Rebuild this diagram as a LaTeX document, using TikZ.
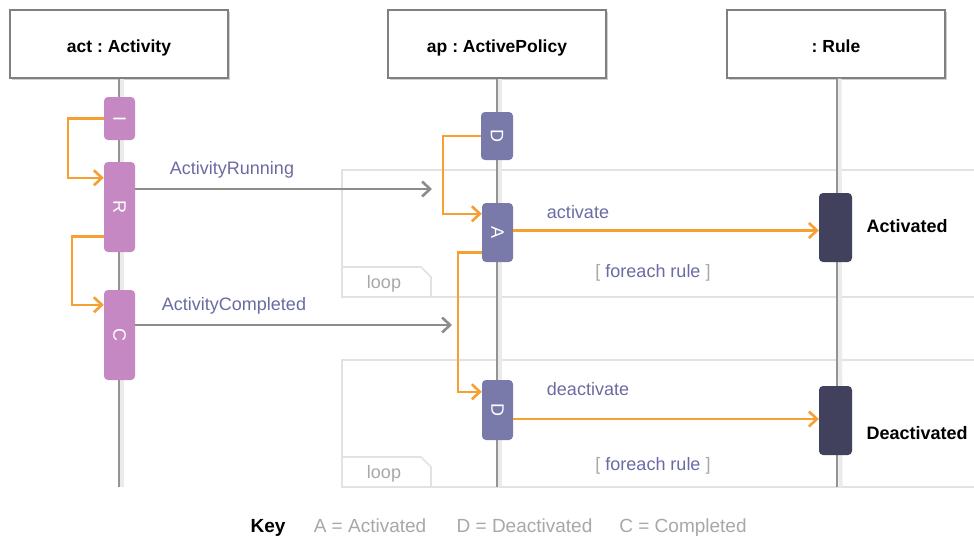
\documentclass[tikz,border=0pt]{standalone}
\usepackage{fontspec}
\setmainfont{Liberation Sans}
\frenchspacing
\usetikzlibrary{arrows.meta,shadows,calc}
\definecolor{actc}{HTML}{C588C2}
\definecolor{apc}{HTML}{7979AA}
\definecolor{rulec}{HTML}{41415E}
\definecolor{orng}{HTML}{F5A030}
\definecolor{msgc}{HTML}{6B6BA3}
\definecolor{garr}{HTML}{8C8C8C}
\definecolor{framec}{HTML}{E2E2E2}
\definecolor{ltxt}{HTML}{A8A8A8}
\tikzset{
  header/.style={draw=black!50, line width=1.3pt, fill=white, minimum width=218pt, minimum height=68pt, inner sep=0pt,
    text height=17pt, text depth=0pt,
    font=\fontsize{17.5}{20}\selectfont\bfseries,
    drop shadow={shadow xshift=2pt, shadow yshift=-2pt, opacity=0.3, fill=black!60}},
  bar/.style={rounded corners=4pt, inner sep=0pt, text=white, font=\fontsize{18}{20}\selectfont},
  lifeline/.style={draw=black!42, line width=2.4pt},
  lifeshadow/.style={draw=black!8, line width=4pt},
  oarrow/.style={draw=orng, line width=2.6pt, -{Straight Barb[length=8pt,width=15pt,line width=2.6pt]}},
  garrow/.style={draw=garr, line width=2.6pt, -{Straight Barb[length=8pt,width=15pt,line width=2.6pt]}},
  msg/.style={text=msgc, font=\fontsize{18}{20}\selectfont},
  loopframe/.style={draw=framec, line width=1.6pt},
  looptxt/.style={text=ltxt, font=\fontsize{18}{20}\selectfont},
  keytxt/.style={text=ltxt, font=\fontsize{19}{21}\selectfont, anchor=base},
  state/.style={font=\fontsize{18}{20}\selectfont\bfseries, anchor=west}
}
\newcommand{\rotl}[1]{\rotatebox{-90}{#1}}
\begin{document}
\begin{tikzpicture}[x=1pt, y=-1pt]
\useasboundingbox[fill=white] (0,0) rectangle (974,538);

% loop frames
\draw[loopframe] (342,170) rectangle (980,297);
\draw[loopframe] (342,267) -- (421,267) -- (431,277) -- (431,297);
\node[looptxt] (loop1) at (384,284) {loop};
\draw[loopframe] (342,360) rectangle (980,487);
\draw[loopframe] (342,457) -- (421,457) -- (431,467) -- (431,487);
\node[looptxt] (loop2) at (384,474) {loop};

% headers
\node[header] (act) at (119,44) {act : Activity};
\node[header] (ap) at (497,44) {ap : ActivePolicy};
\node[header] (rule) at (836,44) {: Rule};

% lifelines
\coordinate (actEnd) at (119,487);
\coordinate (apEnd) at (497,487);
\coordinate (ruleEnd) at (837,487);
\draw[lifeshadow] ([xshift=2.5pt]act.south) -- ([xshift=2.5pt]actEnd);
\draw[lifeshadow] ([xshift=2.5pt]ap.south) -- ([xshift=2.5pt]apEnd);
\draw[lifeshadow] ([xshift=3.5pt]rule.south) -- ([xshift=3.5pt]ruleEnd);
\draw[lifeline] (act.south) -- (actEnd);
\draw[lifeline] (ap.south) -- (apEnd);
\draw[lifeline] ([xshift=1pt]rule.south) -- (ruleEnd);

% activation bars
\node[bar, fill=actc, minimum height=43pt, minimum width=31pt] (I) at (119.5,118.5) {\rotl{I}};
\node[bar, fill=actc, minimum height=90pt, minimum width=31pt] (R) at (119.5,207) {\rotl{R}};
\node[bar, fill=actc, minimum height=90pt, minimum width=31pt] (C) at (119.5,335) {\rotl{C}};
\node[bar, fill=apc, minimum height=48pt, minimum width=32pt] (D1) at (497,136) {\rotl{D}};
\node[bar, fill=apc, minimum height=59pt, minimum width=31pt] (A) at (497.5,232.5) {\rotl{A}};
\node[bar, fill=apc, minimum height=60pt, minimum width=31pt] (D2) at (497.5,410) {\rotl{D}};
\node[bar, fill=rulec, minimum height=69pt, minimum width=33pt] (Act) at (835.5,227.5) {};
\node[bar, fill=rulec, minimum height=69pt, minimum width=33pt] (Deact) at (835.5,420.5) {};

% states
\node[state] (actlbl) at (863,226) {Activated};
\node[state] (deactlbl) at (863,433) {Deactivated};

% self transitions
\draw[oarrow] (I.west) -- ++(-36,0) |- ([yshift=-16pt]R.north west);
\draw[oarrow] ([yshift=16pt]R.south west) -- ++(-32,0) |- ([yshift=-15pt]C.north west);
\draw[oarrow] (D1.west) -- ++(-38,0) |- ([yshift=-11pt]A.north west);
\draw[oarrow] ([yshift=10pt]A.south west) -- ++(-24,0) |- ([yshift=-12pt]D2.north west);

% messages
\coordinate (runEnd) at (432,189);
\coordinate (compEnd) at (452,325);
\draw[garrow] (R.east |- runEnd) -- (runEnd);
\draw[garrow] (C.east |- compEnd) -- (compEnd);
\node[msg] (runlbl) at (232,170) {ActivityRunning};
\node[msg] (complbl) at (234,306) {ActivityCompleted};

\draw[oarrow] ([yshift=2pt]A.east) -- ([yshift=2pt]A.east -| Act.west);
\draw[oarrow] ([yshift=-9pt]D2.east) -- ([yshift=-9pt]D2.east -| Deact.west);
\node[msg] (actmsg) at (578,212) {activate};
\node[msg] (deactmsg) at (588,389) {deactivate};

\node[msg] (guard1) at (653,273) {\textcolor{ltxt}{[}\ foreach rule \textcolor{ltxt}{]}};
\node[msg] (guard2) at (653,466) {\textcolor{ltxt}{[}\ foreach rule \textcolor{ltxt}{]}};

% key
\node[font=\fontsize{19}{21}\selectfont\bfseries, anchor=base] (key) at (268,532) {Key};
\node[keytxt] (k1) at (370,532) {A = Activated};
\node[keytxt] (k2) at (524.5,532) {D = Deactivated};
\node[keytxt] (k3) at (683,532) {C = Completed};
\end{tikzpicture}
\end{document}
